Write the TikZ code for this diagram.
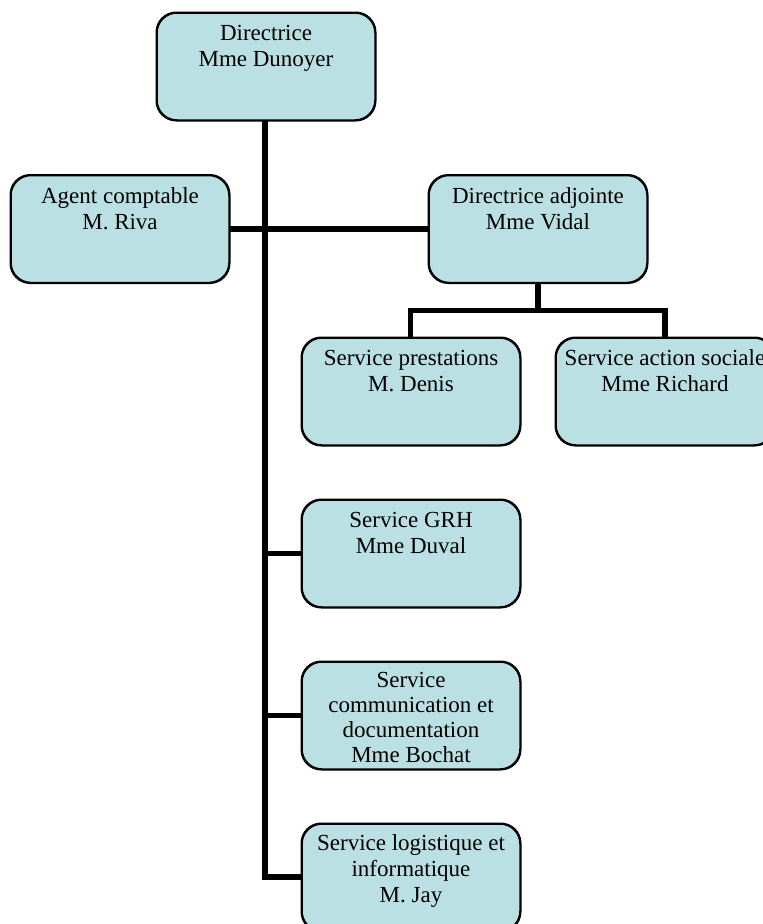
\documentclass[tikz,border=0pt]{standalone}
\usepackage{fontspec}
\setmainfont{Liberation Serif}
\definecolor{boxfill}{HTML}{BBE0E3}
\tikzset{
  orgbox/.style={draw=black, line width=1.5pt, fill=boxfill, rounded corners=20pt,
    minimum width=218pt, minimum height=107pt, inner sep=0pt},
  orgtext/.style={anchor=north, align=center, inner sep=0pt,
    font=\fontsize{23}{26}\selectfont},
  link/.style={line width=6pt, line cap=rect}
}
\begin{document}
\begin{tikzpicture}[x=1pt, y=-1pt]
\clip (0,0) rectangle (763,924);
\useasboundingbox (0,0) rectangle (763,924);
% boxes
\node[orgbox] (dir) at (266,66.5) {};
\node[orgbox] (agent) at (120,229) {};
\node[orgbox] (adj) at (538,229) {};
\node[orgbox] (prest) at (411,391.5) {};
\node[orgbox] (social) at (665,391.5) {};
\node[orgbox] (grh) at (411,553.5) {};
\node[orgbox] (comm) at (411,715.5) {};
\node[orgbox] (logi) at (411,877.5) {};
% connectors
\coordinate (vtop) at (265,120);
\coordinate (vbot) at (265,877);
\coordinate (split) at (538,310.5);
\coordinate (splitL) at (410.5,310.5);
\coordinate (splitR) at (665,310.5);
\draw[line width=6pt] (dir.south -| vtop) -- (vbot) -- (logi.west |- vbot);
\draw[line width=5.5pt] (agent.east) -- (adj.west);
\draw[line width=5.5pt] (grh.west -| vtop) -- (grh.west);
\draw[line width=5.5pt] (comm.west -| vtop) -- (comm.west);
\draw[line width=5.5pt] (adj.south) -- (split);
\draw[line width=5.5pt, line join=miter] (prest.north -| splitL) -- (splitL) -- (splitR) -- (social.north -| splitR);
% redraw box outlines over connector ends
\foreach \b in {dir,agent,adj,prest,social,grh,comm,logi}{
  \draw[line width=1.5pt, rounded corners=20pt] (\b.south west) rectangle (\b.north east);
}
% texts
\node[orgtext] (tdir) at ([yshift=-10pt]dir.north) {\strut Directrice\\Mme Dunoyer};
\node[orgtext] (tagent) at ([yshift=-10pt]agent.north) {\strut Agent comptable\\M. Riva};
\node[orgtext] (tadj) at ([yshift=-10pt]adj.north) {\strut Directrice adjointe\\Mme Vidal};
\node[orgtext] (tprest) at ([yshift=-10pt]prest.north) {\strut Service prestations\\M. Denis};
\node[orgtext] (tsocial) at ([yshift=-10pt]social.north) {\strut Service action sociale\\Mme Richard};
\node[orgtext] (tgrh) at ([yshift=-10pt]grh.north) {\strut Service GRH\\Mme Duval};
\begin{scope}
\clip[rounded corners=20pt] (comm.south west) rectangle (comm.north east);
\node[orgtext, font=\fontsize{23}{25}\selectfont] (tcomm) at ([yshift=-9pt]comm.north) {\strut Service\\communication et\\documentation\\Mme Bochat};
\end{scope}
\node[orgtext] (tlogi) at ([yshift=-9pt]logi.north) {\strut Service logistique et\\informatique\\M. Jay};
\end{tikzpicture}
\end{document}
